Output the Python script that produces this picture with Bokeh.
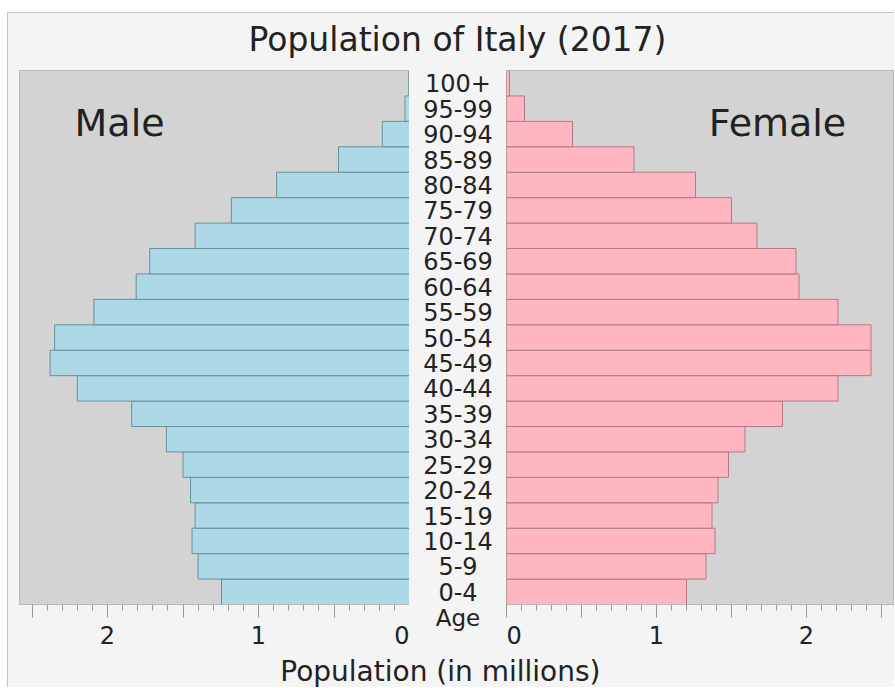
from bokeh.plotting import figure
from bokeh.models import Range1d, FactorRange, FixedTicker, Label, ColumnDataSource
from bokeh.layouts import column, row
from bokeh.embed import file_html
from bokeh.resources import INLINE
from bokeh.core.properties import value

# ---- data (millions) ----
ages = ["0-4", "5-9", "10-14", "15-19", "20-24", "25-29", "30-34", "35-39",
        "40-44", "45-49", "50-54", "55-59", "60-64", "65-69", "70-74", "75-79",
        "80-84", "85-89", "90-94", "95-99", "100+"]
male = [1.245, 1.40, 1.44, 1.42, 1.45, 1.50, 1.61, 1.84, 2.20, 2.38, 2.35,
        2.09, 1.81, 1.72, 1.42, 1.18, 0.88, 0.47, 0.18, 0.03, 0.004]
female = [1.20, 1.33, 1.39, 1.37, 1.41, 1.48, 1.59, 1.84, 2.21, 2.43, 2.43,
          2.21, 1.95, 1.93, 1.67, 1.50, 1.26, 0.85, 0.44, 0.12, 0.02]
major_ticks = [0, 0.5, 1, 1.5, 2, 2.5]
tick_labels = {0: "0", 0.5: "", 1: "1", 1.5: "", 2: "2", 2.5: ""}
minor_ticks = [round(0.1 * i, 1) for i in range(27)]

BG = "#f4f4f4"
PANEL = "#d3d3d3"
FONT = "DejaVu Sans"
TXT = "#222222"
ROW_H = 584
BOT = 50

src = ColumnDataSource(dict(age=ages, male=male, female=female))
yr = FactorRange(factors=ages)


def panel(width, xr, mbl, mbr):
    p = figure(width=width, height=ROW_H, x_range=xr, y_range=yr,
               output_backend="svg", toolbar_location=None,
               y_axis_location=None, min_border_left=mbl, min_border_right=mbr,
               min_border_top=0, min_border_bottom=BOT)
    p.background_fill_color = PANEL
    p.border_fill_color = BG
    p.outline_line_color = "#b8b8b8"
    p.grid.visible = False
    ax = p.xaxis[0]
    ax.ticker = FixedTicker(ticks=major_ticks, minor_ticks=minor_ticks)
    ax.major_label_overrides = tick_labels
    ax.major_tick_out = 13
    ax.major_tick_in = 0
    ax.minor_tick_out = 6
    ax.minor_tick_in = 0
    ax.major_tick_line_color = "#999999"
    ax.minor_tick_line_color = "#999999"
    ax.axis_line_color = "#b8b8b8"
    ax.major_label_text_font = FONT
    ax.major_label_text_font_size = "24px"
    ax.major_label_text_color = TXT
    ax.major_label_standoff = 8
    return p


left = panel(401, Range1d(390 / 151, 0), 11, 0)
left.hbar(y="age", left=0, right="male", height=1.0, source=src,
          fill_color="#add8e6", line_color="#64939f", line_width=1)
left.add_layout(Label(x=1.92, y=18.95, text="Male", text_align="center",
                      text_baseline="middle", text_font=FONT,
                      text_font_size="38px", text_color=TXT))

right = panel(388, Range1d(0, 388 / 150), 0, 0)
right.hbar(y="age", left=0, right="female", height=1.0, source=src,
           fill_color="#ffb6c1", line_color="#b07a86", line_width=1)
right.add_layout(Label(x=1.807, y=18.95, text="Female", text_align="center",
                       text_baseline="middle", text_font=FONT,
                       text_font_size="38px", text_color=TXT))

mid = figure(width=97, height=ROW_H, x_range=Range1d(-1, 1), y_range=yr,
             output_backend="svg", toolbar_location=None, y_axis_location=None,
             min_border_left=0, min_border_right=0, min_border_top=0,
             min_border_bottom=BOT)
mid.background_fill_color = BG
mid.border_fill_color = BG
mid.outline_line_color = None
mid.grid.visible = False
mid.text(x=0, y="age", text="age", source=src, text_align="center",
         text_baseline="middle", text_font=value(FONT),
         text_font_size="24px", text_color=TXT)
mx = mid.xaxis[0]
mx.ticker = FixedTicker(ticks=[])
mx.axis_line_color = None
mx.major_tick_line_color = None
mx.minor_tick_line_color = None
mx.axis_label = "Age"
mx.axis_label_standoff = 0
mx.axis_label_text_font = FONT
mx.axis_label_text_font_style = "normal"
mx.axis_label_text_font_size = "23px"
mx.axis_label_text_color = TXT


def text_strip(height, txt, size, xpos, ypos):
    f = figure(width=886, height=height, x_range=Range1d(0, 1),
               y_range=Range1d(0, 1), output_backend="svg",
               toolbar_location=None, x_axis_location=None,
               y_axis_location=None, min_border_left=20, min_border_right=8,
               min_border_top=0, min_border_bottom=0)
    f.background_fill_color = BG
    f.border_fill_color = BG
    f.outline_line_color = None
    f.grid.visible = False
    f.text(x=[xpos], y=[ypos], text=[txt], text_align="center",
           text_baseline="middle", text_font=value(FONT),
           text_font_size=size, text_color=TXT)
    return f


top = text_strip(57, "Population of Italy (2017)", "33px", 0.5, 0.55)
bottom = text_strip(33, "Population (in millions)", "28px", 0.48, 0.5)

layout = column(top, row(left, mid, right), bottom,
                margin=(12, 0, 0, 7),
                styles={"border-left": "1px solid #c4c4c4",
                        "border-top": "1px solid #c4c4c4",
                        "background-color": BG})

open("out.html", "w").write(file_html(layout, INLINE))
